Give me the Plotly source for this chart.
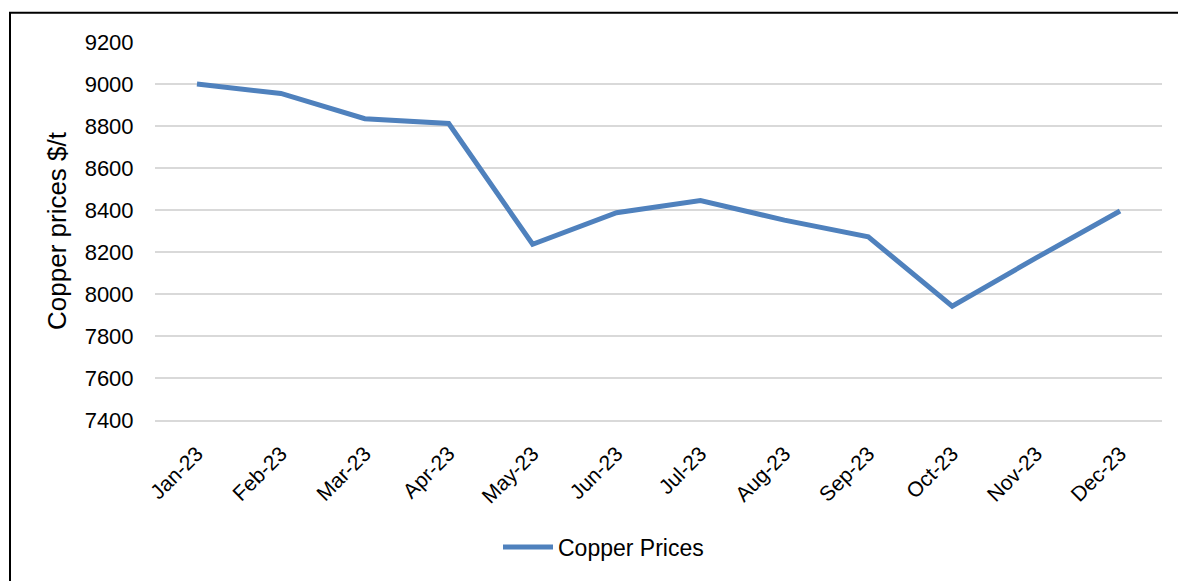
import plotly.graph_objects as go

months = ["Jan-23", "Feb-23", "Mar-23", "Apr-23", "May-23", "Jun-23",
          "Jul-23", "Aug-23", "Sep-23", "Oct-23", "Nov-23", "Dec-23"]
copper_prices = [9000, 8955, 8835, 8812, 8237, 8387, 8445, 8352, 8272, 7942, 8172, 8395]
y_ticks = [7400, 7600, 7800, 8000, 8200, 8400, 8600, 8800, 9000, 9200]

W, H = 1178, 581
L, R, T, B = 155, 16, 42, 158
pw, ph = W - L - R, H - T - B

def px_x(x):
    return (x - L) / pw

def px_y(y):
    return (H - B - y) / ph

fig = go.Figure()
fig.add_trace(go.Scatter(
    x=months, y=copper_prices, mode="lines", name="Copper Prices",
    line=dict(color="#4f81bd", width=5),
))

font = "Liberation Sans, Arial, sans-serif"
fig.update_layout(
    width=W, height=H,
    margin=dict(l=L, r=R, t=T, b=B),
    paper_bgcolor="white", plot_bgcolor="white",
    font=dict(family=font, size=22, color="black"),
    showlegend=True,
    legend=dict(x=px_x(498), y=px_y(551), xanchor="left", yanchor="middle",
                orientation="h", font=dict(size=23), itemwidth=50,
                bgcolor="rgba(0,0,0,0)"),
    xaxis=dict(type="category", range=[-0.5, 11.5], showgrid=False,
               showline=True, linecolor="#d9d9d9", linewidth=2,
               zeroline=False, tickangle=-45,
               tickfont=dict(size=21), ticks="outside", ticklen=11,
               tickcolor="rgba(0,0,0,0)"),
    yaxis=dict(range=[7400, 9200], tickvals=y_ticks, showgrid=True,
               gridcolor="#d9d9d9", gridwidth=2, zeroline=False, showline=False,
               ticks="outside", ticklen=16, tickcolor="rgba(0,0,0,0)",
               tickfont=dict(size=22),
               title=dict(text="Copper prices $/t", font=dict(size=26), standoff=10)),
    shapes=[dict(type="rect", xref="paper", yref="paper",
                 x0=px_x(10), x1=1.2, y0=-0.6, y1=px_y(12.5),
                 line=dict(color="black", width=2), layer="below")],
)

fig.write_html("out.html", config={"displayModeBar": False},
               post_script="document.body.style.margin='0';document.body.style.padding='0';")
